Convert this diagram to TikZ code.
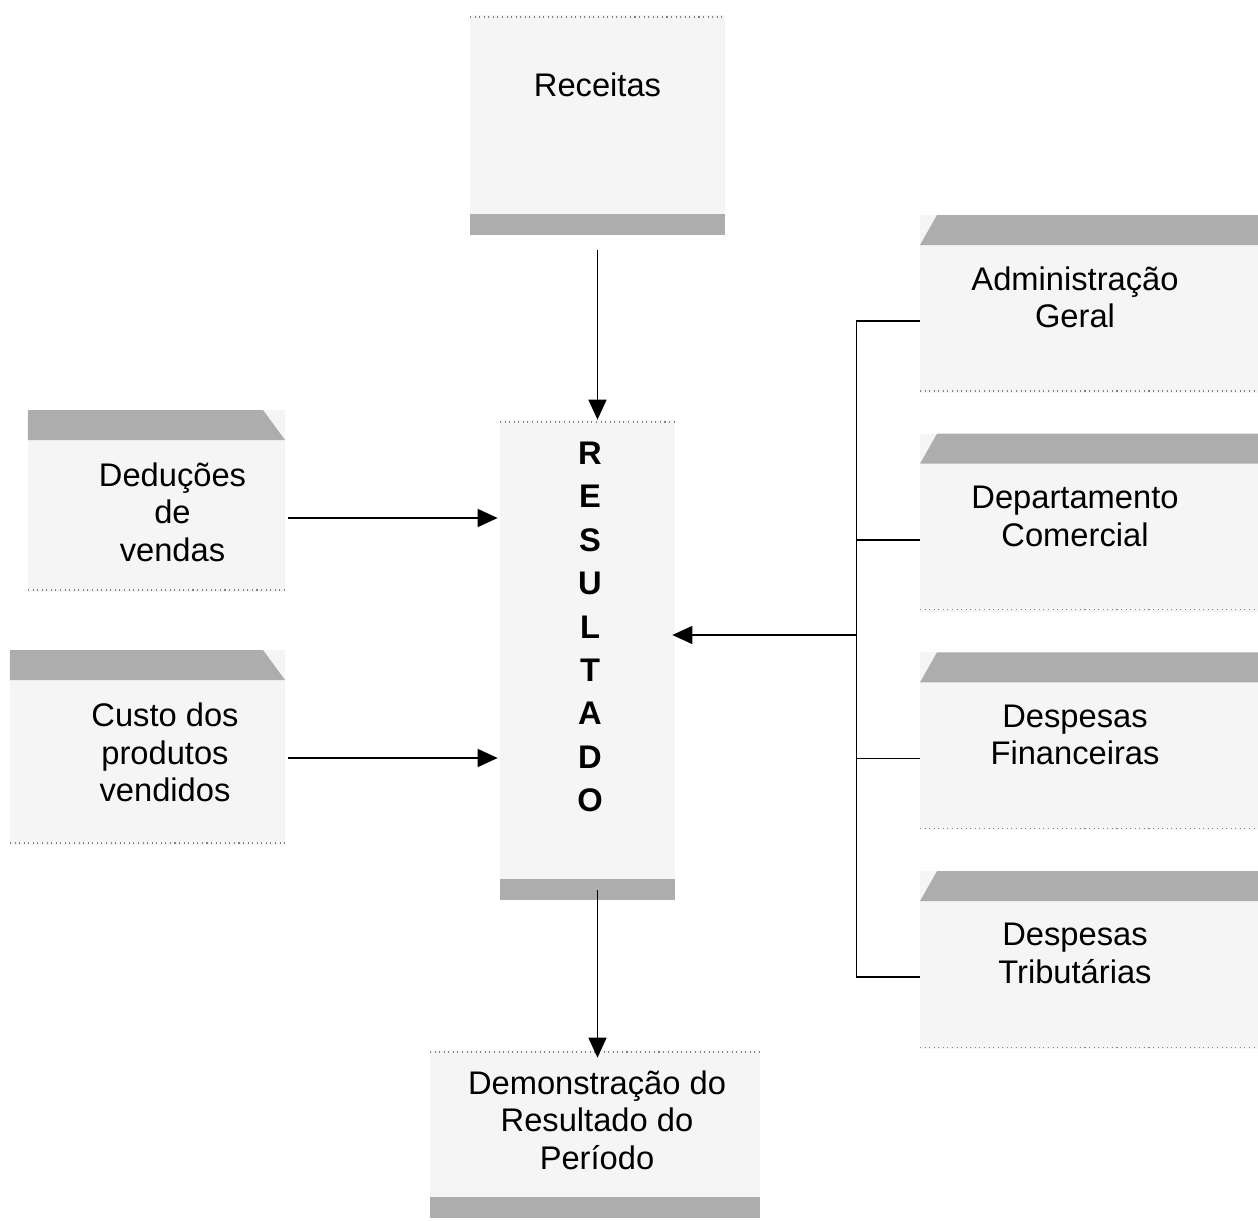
\documentclass[tikz,border=0pt]{standalone}
\usepackage{fontspec}
\setmainfont{Liberation Sans}
\usepackage{tikz}
\usetikzlibrary{positioning,arrows.meta}
\newcommand{\boxfont}{\fontsize{18.6}{21.3}\selectfont}
\tikzset{
    boxText/.style={font=\boxfont, align=center, inner sep=0pt},
    boxBase/.style={inner sep=0pt, fill=black!4},
    boxR/.style={boxBase, minimum width=67.6mm, minimum height=35.6mm,
        path picture={
            \fill[black!32] ([xshift=3.4mm]path picture bounding box.north west) -- (path picture bounding box.north east)
                -- ([yshift=-6mm]path picture bounding box.north east) -- ([yshift=-6mm]path picture bounding box.north west) -- cycle;
            \draw[gray, dotted, line width=0.6pt] ([yshift=0.4mm]path picture bounding box.south west) -- ([yshift=0.4mm]path picture bounding box.south east);}},
    boxL/.style={boxBase,
        path picture={
            \fill[black!32] (path picture bounding box.north west) -- ([xshift=-4.4mm]path picture bounding box.north east)
                -- ([yshift=-6mm]path picture bounding box.north east) -- ([yshift=-6mm]path picture bounding box.north west) -- cycle;
            \draw[gray, dotted, line width=0.6pt] ([yshift=0.4mm]path picture bounding box.south west) -- ([yshift=0.4mm]path picture bounding box.south east);}},
    boxB/.style={boxBase,
        path picture={
            \fill[black!32] ([yshift=4.2mm]path picture bounding box.south west) rectangle (path picture bounding box.south east);
            \draw[gray, dotted, line width=0.6pt] ([yshift=-0.4mm]path picture bounding box.north west) -- ([yshift=-0.4mm]path picture bounding box.north east);}},
    flow/.style={line width=0.9pt, -{Triangle[length=4mm,width=3.6mm]}},
    bus/.style={line width=0.9pt},
    node distance=8mm
}

\begin{document}
\begin{tikzpicture}[x=0.2mm, y=-0.2mm]
    \useasboundingbox (0,0) rectangle (1258,1221);
    \node[boxB, minimum width=51mm, minimum height=44mm, label={[boxText, yshift=8mm]center:Receitas}] (rec) at (597.5,125) {};
    \node[boxB, minimum width=35mm, minimum height=96mm,
        label={[boxText, xshift=0.5mm, yshift=6.6mm, font=\fontsize{18.6}{24.7}\selectfont\bfseries]center:R\\E\\S\\U\\L\\T\\A\\D\\O}] (res) at (587.5,660) {};
    \node[boxB, minimum width=66mm, minimum height=33.6mm,
        label={[boxText, xshift=0.4mm, yshift=2.8mm]center:Demonstração do\\Resultado do\\Período}] (dem) at (595,1134) {};

    \node[boxL, minimum width=51.4mm, minimum height=36.4mm,
        label={[boxText, xshift=3.2mm, yshift=-2.2mm]center:Deduções\\de\\vendas}] (ded) at (156.5,501) {};
    \node[boxL, minimum width=55mm, minimum height=39mm,
        label={[boxText, xshift=3.5mm, yshift=-1mm]center:Custo dos\\produtos\\vendidos}] (cpv) at (147.5,747.5) {};

    \node[boxR, label={[boxText, xshift=-2.8mm, yshift=1.3mm]center:Administração\\Geral}] (adm) at (1089,304) {};
    \node[boxR, below = of adm, label={[boxText, xshift=-2.8mm, yshift=1.3mm]center:Departamento\\Comercial}] (dep) {};
    \node[boxR, below = of dep, label={[boxText, xshift=-2.8mm, yshift=1.3mm]center:Despesas\\Financeiras}] (fin) {};
    \node[boxR, below = of fin, label={[boxText, xshift=-2.8mm, yshift=1.3mm]center:Despesas\\Tributárias}] (trib) {};

    \coordinate (b1) at ([xshift=-12.6mm, yshift=-3.4mm]adm.west);
    \coordinate (b2) at ([xshift=-12.6mm, yshift=-3.4mm]dep.west);
    \coordinate (b3) at ([xshift=-12.6mm, yshift=-3.4mm]fin.west);
    \coordinate (b4) at ([xshift=-12.6mm, yshift=-3.4mm]trib.west);
    \coordinate (rin) at ([yshift=5mm]res.east);

    \draw[flow, shorten <=3mm] (rec.south) -- (rec.south |- res.north);
    \draw[flow, shorten <=0.6mm, shorten >=0.4mm] ([yshift=-3.4mm]ded.east) -- ([yshift=-3.4mm]ded.east -| res.west);
    \draw[flow, shorten <=0.6mm, shorten >=0.4mm] ([yshift=-2.1mm]cpv.east) -- ([yshift=-2.1mm]cpv.east -| res.west);
    \draw[flow, shorten <=-2mm, shorten >=-1.6mm] (rec.south |- res.south) -- (rec.south |- dem.north);

    \draw[bus] ([yshift=-3.4mm]adm.west) -- (b1) -- (b4) -- ([yshift=-3.4mm]trib.west);
    \draw[bus] (b2) -- ([yshift=-3.4mm]dep.west);
    \draw[bus] (b3) -- ([yshift=-3.4mm]fin.west);
    \draw[flow, shorten >=-0.6mm] (b1 |- rin) -- (rin);
\end{tikzpicture}
\end{document}
